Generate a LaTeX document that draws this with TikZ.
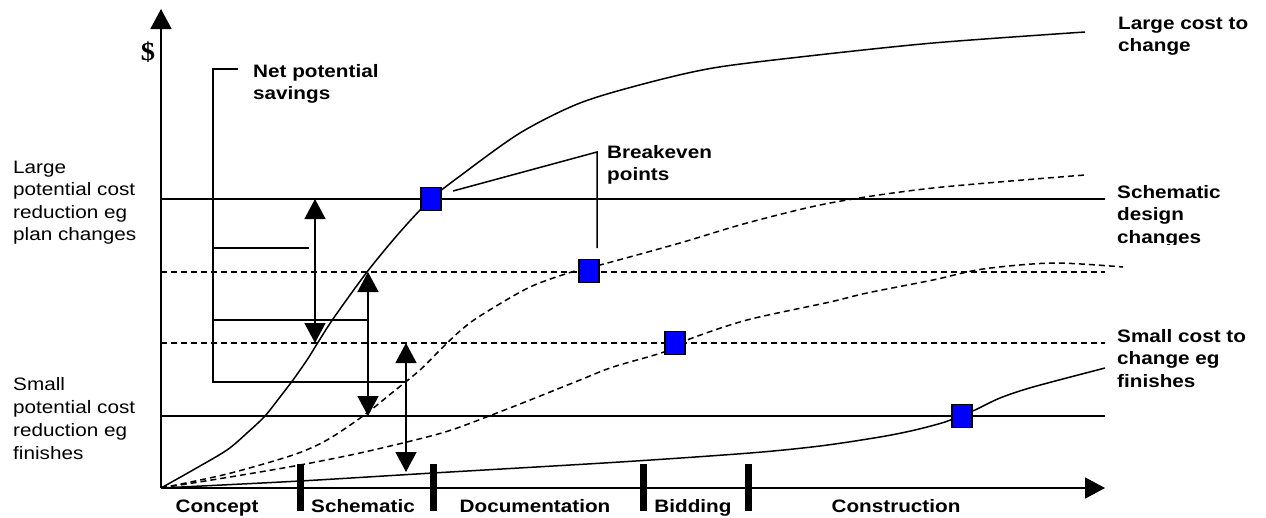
\documentclass[tikz,border=0pt]{standalone}
\usepackage{fontspec}
\setmainfont{Liberation Sans}[FakeStretch=1.15]
\newfontfamily\dollarfont{Liberation Serif}[FakeStretch=1.1]
\usetikzlibrary{arrows.meta}
\tikzset{
  lab/.style={font=\fontsize{18}{22.4}\selectfont, inner sep=0pt, align=left, anchor=base west},
  blab/.style={lab, font=\fontsize{18}{22.4}\selectfont\bfseries},
  lineA/.style={line width=1.5pt},
  dashedline/.style={line width=1.5pt, dash pattern=on 6pt off 4pt},
  axisline/.style={line width=1.7pt, -{Triangle[length=20pt,width=21pt]}},
  bsq/.style={draw=black, fill=blue, line width=1.2pt, minimum width=20pt, minimum height=23pt, inner sep=0pt},
  tickbar/.style={line width=7pt},
  dblarrow/.style={line width=1.5pt, {Triangle[length=20pt,width=21pt]}-{Triangle[length=20pt,width=21pt]}},
}
\begin{document}
\begin{tikzpicture}[x=1pt,y=-1pt]
\useasboundingbox (0,0) rectangle (1266,517);
% coordinates
\coordinate (O) at (161,488);
\coordinate (ytip) at (161,9);
\coordinate (xtip) at (1105,488);
\coordinate (h1l) at (161,199); \coordinate (h1r) at (1105,199);
\coordinate (h2l) at (161,272); \coordinate (h2r) at (1105,272);
\coordinate (h3l) at (161,343); \coordinate (h3r) at (1105,343);
\coordinate (h4l) at (161,416); \coordinate (h4r) at (1105,416);

% horizontal reference lines
\draw[lineA] (h1l) -- (h1r);
\draw[dashedline] (h2l) -- (h2r);
\draw[dashedline] (h3l) -- (h3r);
\draw[lineA] (h4l) -- (h4r);

% curves
\draw[lineA] plot[smooth] coordinates {(161,488) (193,470) (227,450) (247,433) (265,416) (280,397) (293,380) (307,360) (317,344) (333,319) (367,272) (400,232) (431,199) (460,176) (520,133) (580,103) (647,83) (713,68) (800,57) (933,43) (1085,32)};
\draw[dashedline] plot[smooth] coordinates {(161,488) (227,474) (293,455) (327,440) (363,416) (393,392) (420,370) (440,350) (460,331) (480,316) (530,287) (578,270) (600,265) (680,243) (747,223) (830,203) (933,188) (1085,175)};
\draw[dashedline] plot[smooth] coordinates {(161,488) (230,477) (300,465) (360,453) (427,437) (460,427) (520,404) (580,380) (613,367) (664,352) (687,340) (747,320) (830,302) (867,293) (933,280) (983,269) (1053,263) (1123,267)};
\draw[lineA] plot[smooth] coordinates {(161,488) (300,481) (433,473) (620,462) (750,453) (820,446) (880,437) (915,430) (945,422) (962,415) (975,410) (1000,398) (1033,387) (1105,368)};

% axes
\draw[axisline] (O) -- (ytip);
\draw[axisline] (O) -- (xtip);

% phase bars
\foreach \x/\n in {300/t1,433/t2,643/t3,748/t4}{
  \coordinate (\n a) at (\x,464); \coordinate (\n b) at (\x,511);
  \draw[tickbar] (\n a) -- (\n b);
}

% net potential savings bracket
\coordinate (nb0) at (238,69);
\coordinate (nb1) at (213,69);
\coordinate (nb2) at (213,382);
\coordinate (nb3) at (406,382);
\coordinate (nc1) at (213,248); \coordinate (nc2) at (309,248);
\coordinate (nd1) at (213,320); \coordinate (nd2) at (368,320);
\draw[lineA] (nb0) -- (nb1) -- (nb2) -- (nb3);
\draw[lineA] (nc1) -- (nc2);
\draw[lineA] (nd1) -- (nd2);

% double arrows
\coordinate (a1t) at (315,199); \coordinate (a1b) at (315,343);
\coordinate (a2t) at (368,272); \coordinate (a2b) at (368,416);
\coordinate (a3t) at (406,343); \coordinate (a3b) at (406,472);
\draw[dblarrow] (a1t) -- (a1b);
\draw[dblarrow] (a2t) -- (a2b);
\draw[dblarrow] (a3t) -- (a3b);

% breakeven callout
\coordinate (be0) at (453,191);
\coordinate (be1) at (597,152);
\coordinate (be2) at (597,248);
\draw[lineA] (be0) -- (be1) -- (be2);

% blue squares
\node[bsq] (s1) at (431,199) {};
\node[bsq] (s2) at (589,271) {};
\node[bsq] (s3) at (675,343) {};
\node[bsq] (s4) at (962,416) {};

% labels (base anchor = baseline of the last line)
\node[font=\dollarfont\bfseries\fontsize{26}{26}\selectfont, inner sep=0pt] (dol) at (148,52) {\$};
\node[blab] (net) at (253,99.7) {Net potential\\savings};
\node[blab] (brk) at (607,180.4) {Breakeven\\points};
\node[lab] (lpc) at (13,240.5) {Large\\potential cost\\reduction eg\\plan changes};
\node[lab, font=\fontsize{18}{23.3}\selectfont] (spc) at (13,459.9) {Small\\potential cost\\reduction eg\\finishes};
\node[blab] (lcc) at (1118,51.7) {Large cost to\\change};
\begin{scope}
  \clip (1100,170) rectangle (1266,244.3);
  \node[blab] (sdc) at (1117,243.3) {Schematic\\design\\changes};
\end{scope}
\begin{scope}
  \clip (1100,310) rectangle (1266,388);
  \node[blab] (scc) at (1117,387) {Small cost to\\change eg\\finishes};
\end{scope}
\node[blab, anchor=base] (ph1) at (217,512) {Concept};
\node[blab, anchor=base] (ph2) at (363,512) {Schematic};
\node[blab, anchor=base] (ph3) at (535,512) {Documentation};
\node[blab, anchor=base] (ph4) at (693,512) {Bidding};
\node[blab, anchor=base] (ph5) at (896,512) {Construction};
\end{tikzpicture}
\end{document}
